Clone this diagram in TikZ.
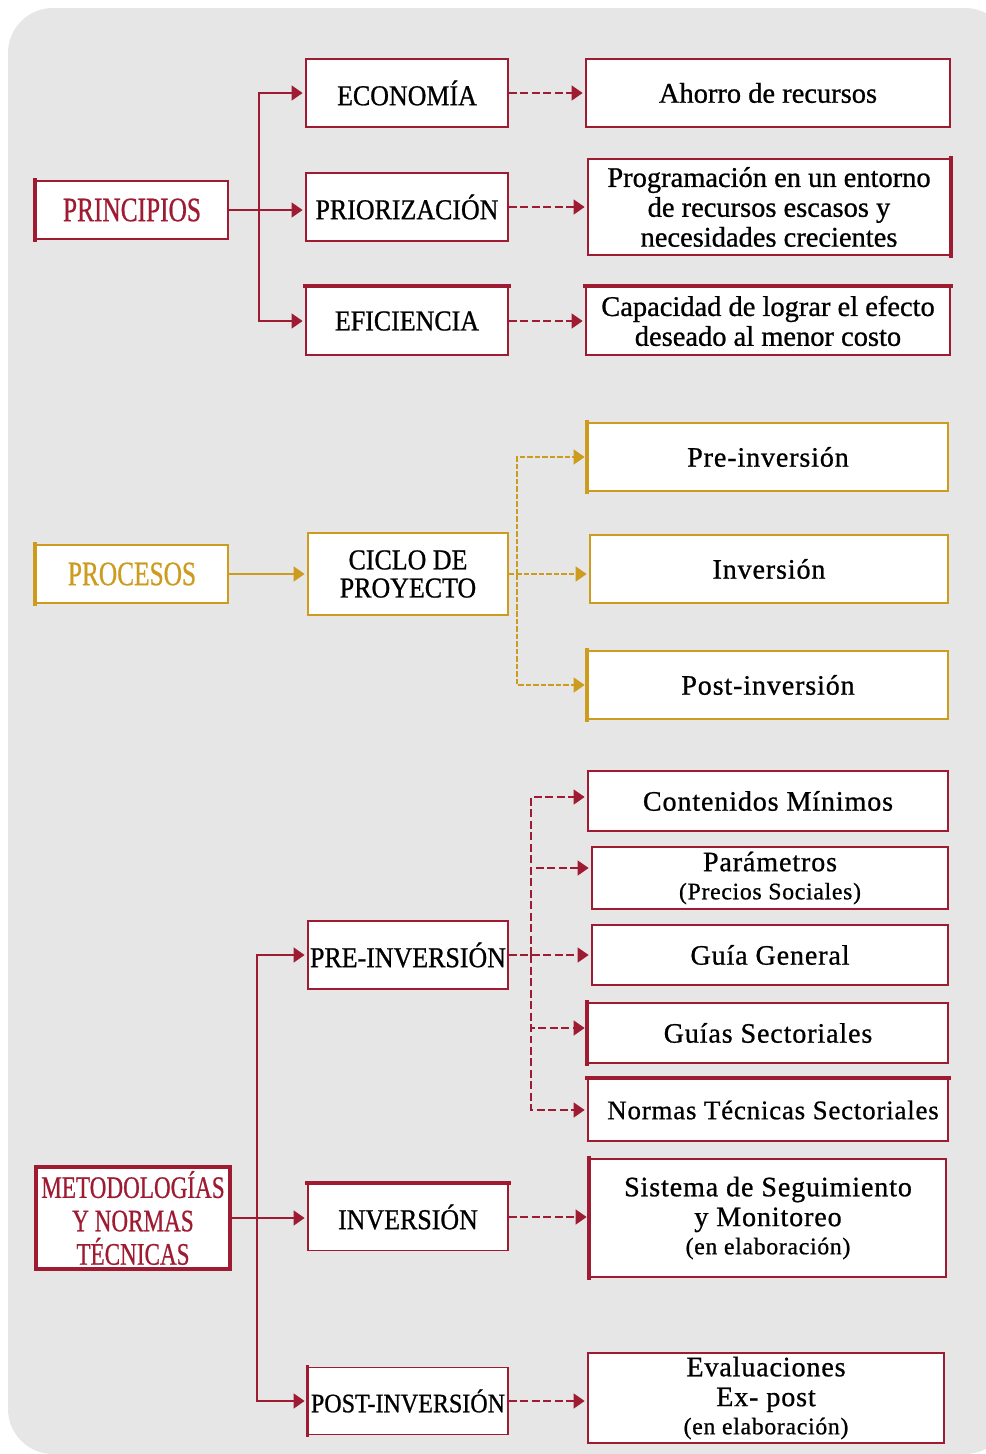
\documentclass[tikz,border=0pt]{standalone}
\usepackage{fontspec}
\setmainfont{Liberation Serif}[FakeBold=0.8]
\newfontfamily\capfont[FakeStretch=0.74,FakeBold=0.6]{Liberation Serif}
\newfontfamily\boxfont[FakeStretch=0.9,FakeBold=0.8]{Liberation Serif}
\newfontfamily\wordfont[LetterSpace=3,FakeBold=0.8]{Liberation Serif}
\usetikzlibrary{arrows.meta}

\definecolor{vino}{RGB}{158,27,50}
\definecolor{oro}{RGB}{205,155,30}
\definecolor{fondo}{RGB}{230,230,230}

\tikzset{
	caja/.style={draw, fill=white, line width=0.9pt, inner sep=0pt, align=center},
	cajaroja/.style={caja, draw=vino},
	cajaoro/.style={caja, draw=oro},
	titulo/.style={font=\capfont\fontsize{19.5}{21}\selectfont, minimum width=3.84cm, minimum height=1.16cm},
	rama/.style={font=\boxfont\fontsize{16.4}{17}\selectfont, minimum width=4.04cm, minimum height=1.36cm},
	hoja/.style={font=\fontsize{16.2}{17}\selectfont, minimum width=7.28cm, minimum height=1.36cm},
	hojab/.style={font=\wordfont\fontsize{16}{16}\selectfont, minimum width=7.2cm, minimum height=1.2cm},
	flecha/.style={line width=0.9pt, -{Triangle[length=0.22cm,width=0.3cm]}, shorten >=1.5pt},
	flechaguion/.style={flecha, dash pattern=on 0.16cm off 0.07cm},
	flechapunto/.style={flecha, dash pattern=on 0.11cm off 0.04cm},
	borde/.style={line width=2.2pt, line cap=rect}
}

\begin{document}
\begin{tikzpicture}[x=0.02cm, y=-0.02cm]
	
	\useasboundingbox (0,0) rectangle (986,1454);
	\fill[fondo, rounded corners=0.9cm] (8,8) rectangle (1010,1454);
	
	% principios
	\node[cajaroja, titulo, text=vino] (princ) at (132,210) {PRINCIPIOS};
	\node[cajaroja, rama] (econ) at (407,93) {ECONOMÍA};
	\node[cajaroja, rama] (prior) at (407,207) {PRIORIZACIÓN};
	\node[cajaroja, rama] (efic) at (407,321) {EFICIENCIA};
	\node[cajaroja, hoja] (ahorro) at (768,93) {Ahorro de recursos};
	\node[cajaroja, hoja, minimum width=7.24cm, minimum height=1.92cm] (prog) at (769,207) {Programación en un entorno\\de recursos escasos y\\necesidades crecientes};
	\node[cajaroja, hoja] (capac) at (768,321) {Capacidad de lograr el efecto\\deseado al menor costo};
	
	\draw[borde, vino] (princ.north west) -- (princ.south west);
	\draw[borde, vino] (efic.north west) -- (efic.north east);
	\draw[borde, vino] (prog.north east) -- (prog.south east);
	\draw[borde, vino] (capac.north west) -- (capac.north east);
	
	\coordinate (t1) at (259,0);
	\draw[flecha, vino] (princ.east) -- (princ.east -| prior.west);
	\draw[flecha, vino] (princ.east -| t1) |- (econ.west);
	\draw[flecha, vino] (princ.east -| t1) |- (efic.west);
	\draw[flechaguion, vino] (econ.east) -- (ahorro.west);
	\draw[flechaguion, vino] (prior.east) -- (prior.east -| prog.west);
	\draw[flechaguion, vino] (efic.east) -- (capac.west);
	
	% procesos
	\node[cajaoro, titulo, text=oro] (proc) at (132,574) {PROCESOS};
	\node[cajaoro, rama, minimum width=4.0cm, minimum height=1.64cm] (ciclo) at (408,574) {CICLO DE\\[-1pt]PROYECTO};
	\node[cajaoro, hojab, minimum height=1.36cm] (prein) at (768,457) {Pre-inversión};
	\node[cajaoro, hojab, minimum width=7.16cm, minimum height=1.36cm] (inv) at (769,569) {Inversión};
	\node[cajaoro, hojab, minimum height=1.36cm] (postin) at (768,685) {Post-inversión};
	
	\draw[borde, oro] (proc.north west) -- (proc.south west);
	\draw[borde, oro] (prein.north west) -- (prein.south west);
	\draw[borde, oro] (postin.north west) -- (postin.south west);
	
	\coordinate (t2) at (517,0);
	\draw[flecha, oro] (proc.east) -- (proc.east -| ciclo.west);
	\draw[flechapunto, oro] (ciclo.east) -- (ciclo.east -| inv.west);
	\draw[flechapunto, oro] (ciclo.east -| t2) |- (prein.west);
	\draw[flechapunto, oro] (ciclo.east -| t2) |- (postin.west);
	
	% metodologias
	\node[cajaroja, titulo, text=vino, line width=2pt, minimum width=3.88cm, minimum height=2.04cm, font=\capfont\fontsize{17.8}{19}\selectfont] (metod) at (133,1218) {METODOLOGÍAS\\Y NORMAS\\TÉCNICAS};
	\node[cajaroja, rama, minimum width=4.0cm] (preinv) at (408,955) {PRE-INVERSIÓN};
	\node[cajaroja, rama, minimum width=4.0cm, minimum height=1.34cm] (inver) at (408,1217) {INVERSIÓN};
	\node[cajaroja, rama, minimum width=4.0cm, minimum height=1.34cm, font=\boxfont\fontsize{15.2}{17}\selectfont] (postinv) at (408,1401) {POST-INVERSIÓN};
	\node[cajaroja, hojab] (conten) at (768,801) {Contenidos Mínimos};
	\node[cajaroja, hojab, minimum width=7.12cm, minimum height=1.24cm] (param) at (770,878) {Parámetros\\{\fontsize{13.5}{15}\selectfont (Precios Sociales)}};
	\node[cajaroja, hojab, minimum width=7.12cm] (guia) at (770,955) {Guía General};
	\node[cajaroja, hojab] (guias) at (768,1033) {Guías Sectoriales};
	\node[cajaroja, hojab, minimum height=1.24cm, font=\wordfont\fontsize{15.3}{16}\selectfont] (normas) at (768,1110) {\hspace{0.2cm}Normas Técnicas Sectoriales};
	\node[cajaroja, hojab, minimum width=7.12cm, minimum height=2.36cm] (sistema) at (768,1218) {Sistema de Seguimiento\\[1pt]y Monitoreo\\{\fontsize{13.5}{15}\selectfont (en elaboración)}};
	\node[cajaroja, hojab, minimum width=7.12cm, minimum height=1.8cm] (evalua) at (766,1398) {Evaluaciones\\[1pt]Ex- post\\{\fontsize{13.5}{15}\selectfont (en elaboración)}};
	
	\draw[borde, vino] (inver.north west) -- (inver.north east);
	\draw[borde, vino, line width=1.5pt] (postinv.north west) -- (postinv.south west);
	\draw[borde, vino] (guias.north west) -- (guias.south west);
	\draw[borde, vino] (normas.north west) -- (normas.north east);
	\draw[borde, vino] (sistema.north west) -- (sistema.south west);
	
	\coordinate (t3) at (257,0);
	\coordinate (t4) at (531,0);
	\draw[flecha, vino] (metod.east) -- (metod.east -| inver.west);
	\draw[flecha, vino] (metod.east -| t3) |- (preinv.west);
	\draw[flecha, vino] (metod.east -| t3) |- (postinv.west);
	\draw[flechaguion, vino] (preinv.east) -- (preinv.east -| guia.west);
	\draw[flechaguion, vino] (preinv.east -| t4) |- ([yshift=0.08cm]conten.west);
	\draw[flechaguion, vino] (preinv.east -| t4) |- ([yshift=0.2cm]param.west);
	\draw[flechaguion, vino] (preinv.east -| t4) |- ([yshift=0.1cm]guias.west);
	\draw[flechaguion, vino] (preinv.east -| t4) |- (normas.west);
	\draw[flechaguion, vino] (inver.east) -- (inver.east -| sistema.west);
	\draw[flechaguion, vino] (postinv.east) -- (postinv.east -| evalua.west);
	
\end{tikzpicture}
\end{document}
